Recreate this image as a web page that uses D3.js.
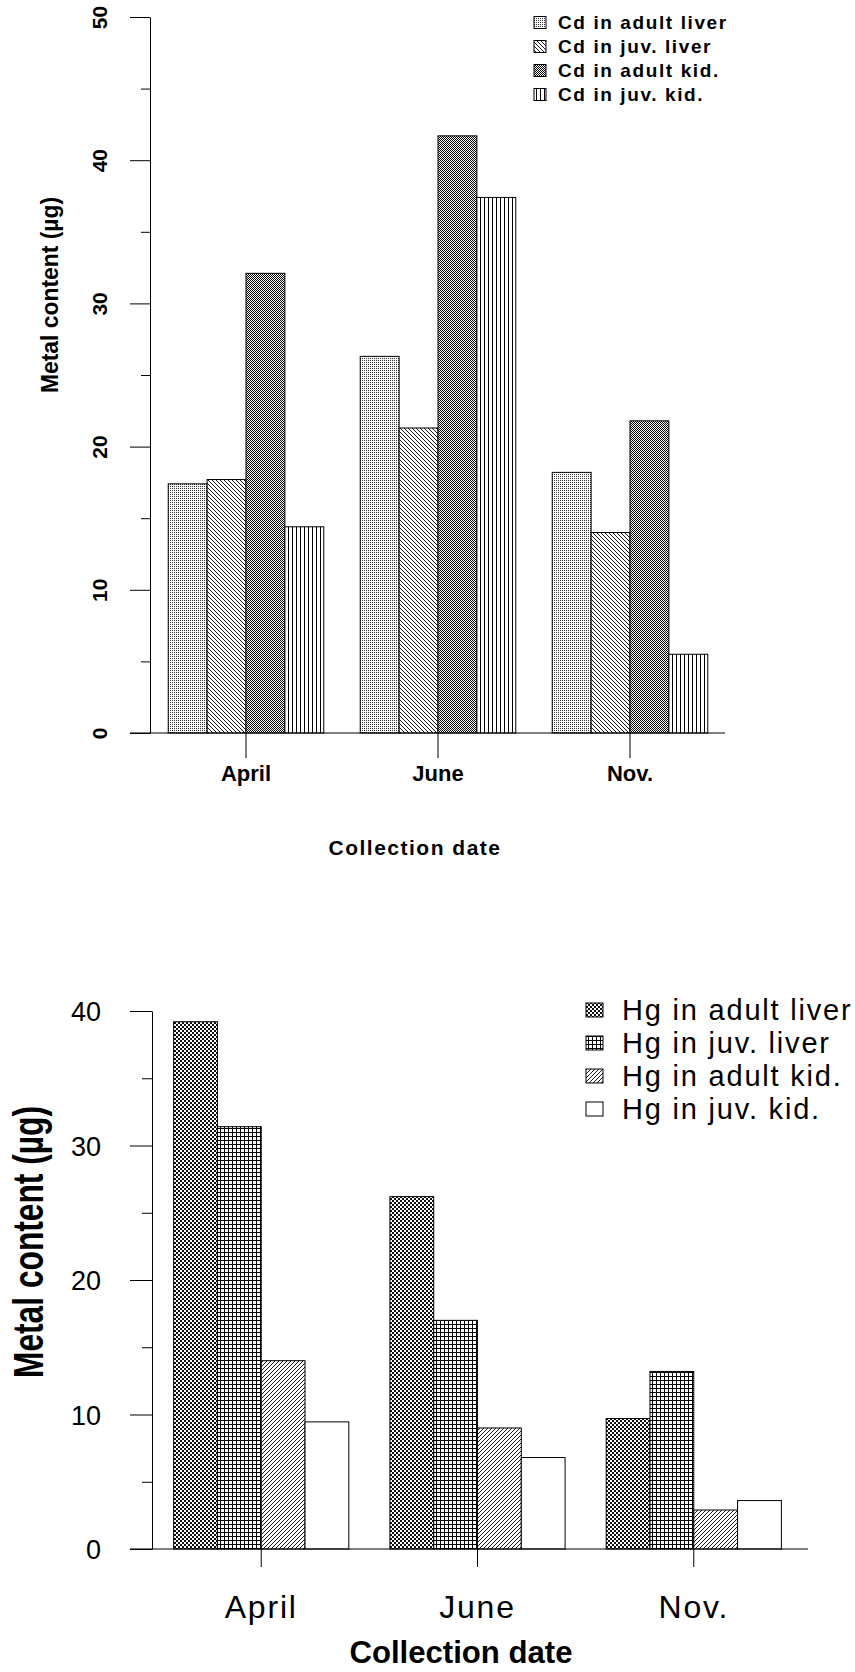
<!DOCTYPE html>
<html><head><meta charset="utf-8">
<script src="https://cdn.jsdelivr.net/npm/d3@7"></script>
<style>
body{margin:0;background:#fff}
svg{display:block}
text{font-family:"Liberation Sans",Arial,Helvetica,sans-serif;fill:#000}
</style>
</head><body>
<svg id="c" width="855" height="1672"></svg>
<script>
// ---------- data ----------
const months = ["April", "June", "Nov."];

const cdSeries = ["Cd in adult liver", "Cd in juv. liver", "Cd in adult kid.", "Cd in juv. kid."];
const cdAdultLiver = [17.4, 26.3, 18.2];
const cdJuvLiver   = [17.7, 21.3, 14.0];
const cdAdultKid   = [32.1, 41.7, 21.8];
const cdJuvKid     = [14.4, 37.4, 5.5];
const cdMajorTicks = [0, 10, 20, 30, 40, 50];
const cdMinorTicks = [5, 15, 25, 35, 45];

const hgSeries = ["Hg in adult liver", "Hg in juv. liver", "Hg in adult kid.", "Hg in juv. kid."];
const hgAdultLiver = [39.2, 26.2, 9.7];
const hgJuvLiver   = [31.4, 17.0, 13.2];
const hgAdultKid   = [14.0, 9.0, 2.9];
const hgJuvKid     = [9.45, 6.8, 3.6];
const hgMajorTicks = [0, 10, 20, 30, 40];
const hgMinorTicks = [5, 15, 25, 35];

const yTitle = "Metal content (µg)";
const xTitle = "Collection date";

// ---------- patterns ----------
const svg = d3.select("#c");
const defs = svg.append("defs");
function pat(id, w, h, build) {
  const p = defs.append("pattern").attr("id", id)
    .attr("patternUnits", "userSpaceOnUse").attr("width", w).attr("height", h);
  p.append("rect").attr("width", w).attr("height", h).attr("fill", "#fff");
  build(p);
}
pat("dots", 2, 2, p => {
  p.append("rect").attr("x", 0).attr("y", 0).attr("width", 1).attr("height", 1).attr("fill", "#333");
});
pat("diagBack", 4, 4, p => {
  p.append("path").attr("d", "M-1,-1L5,5M-1,3L1,5M3,-1L5,1").attr("stroke", "#000").attr("stroke-width", 0.9);
});
pat("diagFwd", 4, 4, p => {
  p.append("path").attr("d", "M-1,5L5,-1M-1,1L1,-1M3,5L5,3").attr("stroke", "#000").attr("stroke-width", 0.9);
});
pat("checkFine", 2, 2, p => {
  p.append("rect").attr("x", 0).attr("y", 0).attr("width", 1).attr("height", 1).attr("fill", "#000");
  p.append("rect").attr("x", 1).attr("y", 1).attr("width", 1).attr("height", 1).attr("fill", "#000");
});
pat("vlines", 4, 4, p => {
  p.append("rect").attr("x", 0).attr("y", 0).attr("width", 1).attr("height", 4).attr("fill", "#000");
});
pat("checkCoarse", 4, 4, p => {
  p.append("rect").attr("x", 0).attr("y", 0).attr("width", 2).attr("height", 2).attr("fill", "#111");
  p.append("rect").attr("x", 2).attr("y", 2).attr("width", 2).attr("height", 2).attr("fill", "#111");
});
pat("grid", 4, 4, p => {
  p.append("rect").attr("x", 0).attr("y", 0).attr("width", 4).attr("height", 1).attr("fill", "#000");
  p.append("rect").attr("x", 0).attr("y", 0).attr("width", 1).attr("height", 4).attr("fill", "#000");
});
pat("white", 4, 4, p => {});

// ---------- panel ----------
function panel(o) {
  const x0 = d3.scaleBand().domain(months).range(o.xRange)
    .paddingInner(o.padIn).paddingOuter(o.padOut);
  const x1 = d3.scaleBand().domain(o.series).range([0, x0.bandwidth()]);
  const y = d3.scaleLinear().domain(o.yDomain).range(o.yRange);
  const g = svg.append("g");

  // bars
  o.series.forEach((s, i) => {
    g.append("g").selectAll("rect").data(o.values[i]).join("rect")
      .attr("x", (d, j) => x0(months[j]) + x1(s))
      .attr("y", d => y(d))
      .attr("width", x1.bandwidth())
      .attr("height", d => y(0) - y(d))
      .attr("fill", `url(#${o.pats[i]})`)
      .attr("stroke", "#000").attr("stroke-width", 1);
  });

  // y axis major
  const ax = g.append("g").attr("transform", `translate(${o.xRange[0]},0)`)
    .call(d3.axisLeft(y).tickValues(o.major).tickSize(o.majorLen).tickSizeOuter(0));
  ax.selectAll("path,line").attr("stroke", "#000").attr("stroke-width", 1);
  ax.selectAll("text").attr("font-size", o.yTickFont).attr("font-weight", o.yTickWeight)
    .attr("fill", "#000");
  if (o.rotTicks) {
    ax.selectAll("text").attr("transform", "rotate(-90)").attr("x", 0)
      .attr("y", o.yTickOffset).attr("dy", 0).attr("text-anchor", "middle");
  } else {
    ax.selectAll("text").attr("x", o.yTickOffset).attr("dy", "0.36em").attr("text-anchor", "end");
  }
  // y axis minor
  const axm = g.append("g").attr("transform", `translate(${o.xRange[0]},0)`)
    .call(d3.axisLeft(y).tickValues(o.minor).tickSize(o.minorLen).tickFormat(""));
  axm.select(".domain").remove();
  axm.selectAll("line").attr("stroke", "#000");

  // baseline
  g.append("line")
    .attr("x1", o.xRange[0] - o.majorLen).attr("x2", o.xRange[1] + o.baseExtra)
    .attr("y1", y(0)).attr("y2", y(0))
    .attr("stroke", "#000").attr("stroke-width", 1.2);

  // x axis
  const bx = g.append("g").attr("transform", `translate(0,${y(0)})`)
    .call(d3.axisBottom(x0).tickSize(o.xTickLen).tickSizeOuter(0));
  bx.select(".domain").remove();
  bx.selectAll("line").attr("stroke", "#000");
  bx.selectAll("text").attr("y", o.xLabOffset).attr("dy", 0)
    .attr("font-size", o.xLabFont).attr("font-weight", o.xLabWeight)
    .attr("letter-spacing", o.xLabLs).attr("fill", "#000");

  // x title
  const xt = g.append("text").attr("x", o.xTitleX).attr("y", o.xTitleY)
    .attr("text-anchor", "middle").attr("font-size", o.xTitleFont).attr("font-weight", "bold")
    .text(xTitle);
  if (o.xTitleLen) xt.attr("textLength", o.xTitleLen).attr("lengthAdjust", "spacingAndGlyphs");
  else xt.attr("letter-spacing", o.xTitleLs);

  // y title
  g.append("text").attr("transform", `translate(${o.yTitleX},${o.yTitleY}) rotate(-90)`)
    .attr("text-anchor", "middle").attr("font-size", o.yTitleFont).attr("font-weight", "bold")
    .attr("textLength", o.yTitleLen).attr("lengthAdjust", "spacingAndGlyphs").text(yTitle);

  // legend
  const lg = g.append("g");
  o.series.forEach((s, i) => {
    const cy = o.legY + i * o.legStep;
    lg.append("rect").attr("x", o.legX).attr("y", cy - o.swH / 2)
      .attr("width", o.swW).attr("height", o.swH)
      .attr("fill", `url(#${o.pats[i]})`).attr("stroke", "#000").attr("stroke-width", 1);
    lg.append("text").attr("x", o.legTextX).attr("y", cy + 0.358 * o.legFont)
      .attr("font-size", o.legFont).attr("font-weight", o.legWeight)
      .attr("letter-spacing", o.legLs).text(s);
  });
}

panel({
  series: cdSeries,
  values: [cdAdultLiver, cdJuvLiver, cdAdultKid, cdJuvKid],
  pats: ["dots", "diagBack", "checkFine", "vlines"],
  xRange: [150, 726], padIn: 0.19, padOut: 0.095,
  yDomain: [0, 50], yRange: [733, 17],
  major: cdMajorTicks, minor: cdMinorTicks, majorLen: 20, minorLen: 9,
  rotTicks: true, yTickOffset: -43, yTickFont: 21, yTickWeight: "bold",
  baseExtra: -1, xTickLen: 25,
  xLabOffset: 48, xLabFont: 22, xLabWeight: "bold", xLabLs: 0,
  xTitleX: 415, xTitleY: 855, xTitleFont: 21, xTitleLs: 1.5,
  yTitleX: 58, yTitleY: 295, yTitleFont: 24, yTitleLen: 196,
  legX: 534, legY: 22.5, legStep: 24, swW: 12, swH: 12,
  legTextX: 558, legFont: 19, legWeight: "bold", legLs: 1.6
});

panel({
  series: hgSeries,
  values: [hgAdultLiver, hgJuvLiver, hgAdultKid, hgJuvKid],
  pats: ["checkCoarse", "grid", "diagFwd", "white"],
  xRange: [152, 803], padIn: 0.19, padOut: 0.1,
  yDomain: [0, 40], yRange: [1549, 1011],
  major: hgMajorTicks, minor: hgMinorTicks, majorLen: 22, minorLen: 10,
  rotTicks: false, yTickOffset: -51, yTickFont: 27, yTickWeight: "normal",
  baseExtra: 5, xTickLen: 18,
  xLabOffset: 69, xLabFont: 32, xLabWeight: "normal", xLabLs: 1.8,
  xTitleX: 461, xTitleY: 1663, xTitleFont: 31, xTitleLen: 223,
  yTitleX: 43, yTitleY: 1242, yTitleFont: 42, yTitleLen: 272,
  legX: 586, legY: 1010, legStep: 33, swW: 17, swH: 14,
  legTextX: 622, legFont: 29, legWeight: "normal", legLs: 1.8
});
</script>
</body></html>
